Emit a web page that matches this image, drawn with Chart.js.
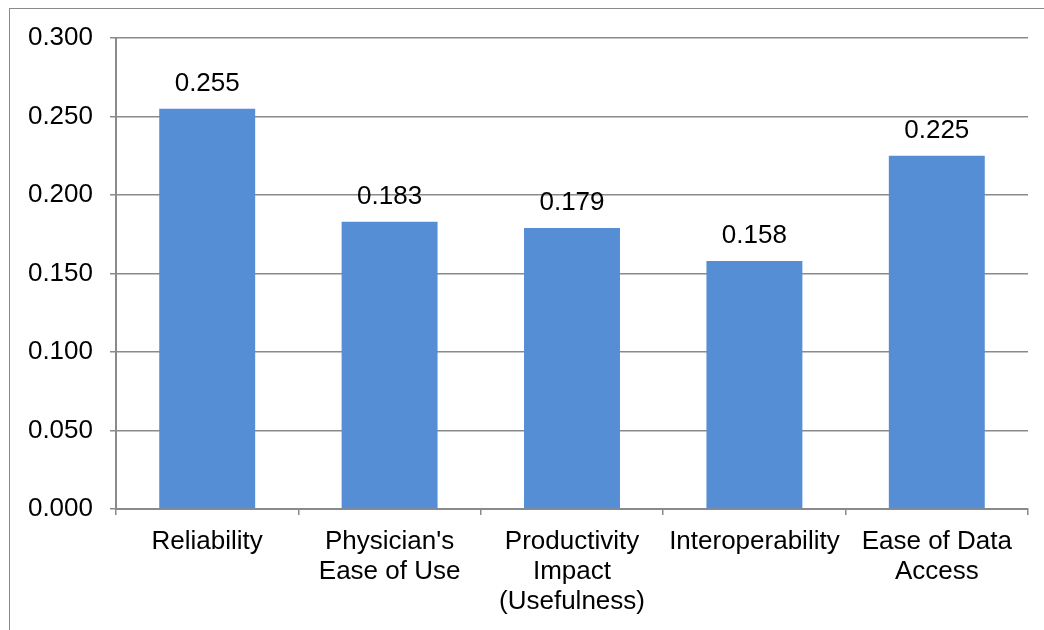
<!DOCTYPE html>
<html>
<head>
<meta charset="utf-8">
<script src="https://cdn.jsdelivr.net/npm/chart.js@4/dist/chart.umd.min.js"></script>
<style>
  html, body { margin: 0; padding: 0; background: #fff; overflow: hidden; }
  #frame {
    position: absolute; left: 9px; top: 8px; width: 1100px; height: 700px;
    border: 1.5px solid #8a8a8a; box-sizing: border-box;
  }
  #wrap { position: absolute; left: 0; top: 0; width: 1044px; height: 630px; }
</style>
</head>
<body>
<div id="frame"></div>
<div id="wrap"><canvas id="chart" width="1044" height="630"></canvas></div>
<script>
const categories = [
  "Reliability",
  ["Physician's", "Ease of Use"],
  ["Productivity", "Impact", "(Usefulness)"],
  "Interoperability",
  ["Ease of Data", "Access"],
];
const weights = [0.255, 0.183, 0.179, 0.158, 0.225];
const yTicks = [0, 0.05, 0.1, 0.15, 0.2, 0.25, 0.3];

const FONT = "'Liberation Sans', Arial, sans-serif";
const GRID = "#8a8a8a";

// value labels above each bar
const valueLabels = {
  id: "valueLabels",
  afterDatasetsDraw(chart) {
    const ctx = chart.ctx;
    const meta = chart.getDatasetMeta(0);
    ctx.save();
    ctx.font = "26px " + FONT;
    ctx.fillStyle = "#000";
    ctx.textAlign = "center";
    ctx.textBaseline = "alphabetic";
    meta.data.forEach((bar, i) => {
      ctx.fillText(weights[i].toFixed(3), bar.x, bar.y - 18);
    });
    ctx.restore();
  },
};

new Chart(document.getElementById("chart"), {
  type: "bar",
  data: {
    labels: categories,
    datasets: [{
      data: weights,
      backgroundColor: "#558ed5",
      categoryPercentage: 0.526,
      barPercentage: 1,
    }],
  },
  plugins: [valueLabels],
  options: {
    responsive: false,
    animation: false,
    layout: { padding: { top: 38, right: 16, left: 0, bottom: 0 } },
    plugins: { legend: { display: false }, tooltip: { enabled: false } },
    scales: {
      x: {
        offset: true,
        grid: {
          offset: true,
          drawOnChartArea: false,
          drawTicks: true,
          tickLength: 6,
          color: GRID,
          lineWidth: 1.5,
        },
        border: { color: GRID, width: 2 },
        ticks: {
          color: "#000",
          font: { family: FONT, size: 26, lineHeight: 1.154 },
          padding: 12,
          maxRotation: 0,
          autoSkip: false,
        },
        afterFit(scale) { scale.height = 121; },
      },
      y: {
        min: 0,
        max: 0.3,
        afterBuildTicks(scale) {
          scale.ticks = yTicks.map((v) => ({ value: v }));
        },
        grid: { color: GRID, lineWidth: 1.5, tickLength: 6 },
        border: { color: GRID, width: 2 },
        ticks: {
          color: "#000",
          font: { family: FONT, size: 26 },
          padding: 17,
          callback: (v) => Number(v).toFixed(3),
        },
        afterFit(scale) { scale.width = 116; },
      },
    },
  },
});
</script>
</body>
</html>
